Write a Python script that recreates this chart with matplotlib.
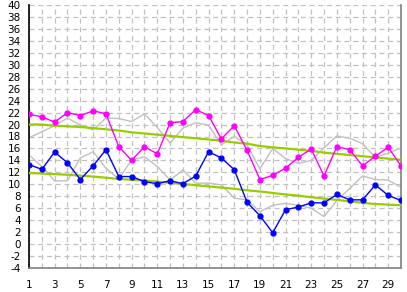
import matplotlib
matplotlib.use("Agg")
import matplotlib.pyplot as plt

days = list(range(1, 31))
x_labels = [str(d) for d in range(1, 30, 2)]
y_ticks = list(range(-4, 41, 2))

max_temp = [21.7, 21.3, 20.4, 22.0, 21.5, 22.3, 21.8, 16.3, 14.0, 16.3,
            15.1, 20.3, 20.5, 22.5, 21.5, 17.6, 19.8, 15.7, 10.8, 11.5,
            12.7, 14.5, 15.9, 11.4, 16.3, 15.8, 13.1, 14.7, 16.2, 13.1]
min_temp = [13.3, 12.5, 15.4, 13.6, 10.8, 13.1, 15.8, 11.3, 11.3, 10.45,
            10.1, 10.6, 10.1, 11.4, 15.45, 14.4, 12.45, 7.0, 4.75, 1.9,
            5.75, 6.2, 6.9, 6.9, 8.3, 7.4, 7.4, 9.9, 8.15, 7.3]
normal_max = [20.0, 20.0, 19.8, 19.7, 19.6, 19.4, 19.2, 19.0, 18.7, 18.5,
              18.3, 18.1, 17.9, 17.7, 17.5, 17.3, 17.0, 16.8, 16.4, 16.2,
              16.0, 15.8, 15.6, 15.3, 15.1, 14.9, 14.7, 14.5, 14.3, 14.1]
normal_min = [11.9, 11.8, 11.7, 11.6, 11.45, 11.3, 11.1, 10.9, 10.75, 10.65,
              10.45, 10.25, 10.05, 9.85, 9.65, 9.45, 9.25, 9.0, 8.8, 8.55,
              8.3, 8.1, 7.85, 7.6, 7.4, 7.15, 6.9, 6.7, 6.6, 6.5]
last_year_max = [17.8, 18.8, 19.8, 21.1, 19.9, 19.1, 21.1, 21.0, 20.5, 21.8,
                 19.5, 16.9, 19.4, 20.3, 19.9, 16.6, 18.0, 16.6, 12.6, 16.0,
                 14.3, 13.5, 14.0, 16.1, 18.1, 17.7, 16.8, 14.5, 15.2, 16.1]
last_year_min = [14.9, 13.0, 10.55, 10.6, 14.4, 15.45, 12.7, 10.9, 14.1, 14.6,
                 13.0, 10.7, 12.4, 10.2, 10.2, 9.9, 7.7, 7.4, 5.4, 6.5,
                 6.8, 6.5, 6.0, 4.6, 7.3, 9.3, 11.4, 10.8, 10.7, 9.5]

W, H = 407, 292
fig = plt.figure(figsize=(W / 100, H / 100), dpi=100)
ax = fig.add_axes([29 / W, 24 / H, (401 - 29) / W, (268 - 5) / H])

ax.plot(days, last_year_max, color="#c0c0c0", lw=1.0, zorder=2)
ax.plot(days, last_year_min, color="#c0c0c0", lw=1.0, zorder=2)
ax.plot(days, normal_max, color="#99cc00", lw=1.6, zorder=3)
ax.plot(days, normal_min, color="#99cc00", lw=1.6, zorder=3)
ax.plot(days, max_temp, color="#ff00ff", lw=1.0, marker="o", ms=3.5, zorder=4)
ax.plot(days, min_temp, color="#0000ff", lw=1.0, marker="o", ms=3.5, zorder=4)

ax.set_xlim(1, 30)
ax.set_ylim(-4, 40)
ax.set_yticks(y_ticks)
ax.set_yticklabels([str(v) for v in y_ticks])
ax.set_xticks(days, minor=False)
ax.set_xticklabels([str(d) if d % 2 == 1 else "" for d in days])
ax.tick_params(axis="both", length=0, labelsize=7.5, colors="black")
ax.tick_params(axis="y", pad=6)
ax.tick_params(axis="x", pad=9)
ax.grid(True, color="#c0c0c0", ls=(0, (4, 3)), lw=0.9, zorder=0)

ax.spines["top"].set_visible(False)
ax.spines["left"].set_color("black")
ax.spines["left"].set_linewidth(1.2)
ax.spines["bottom"].set_color("#808080")
ax.spines["right"].set_color("#808080")
ax.spines["bottom"].set_linewidth(1.2)
ax.spines["right"].set_linewidth(1.2)

fig.savefig("out.png", dpi=100)
